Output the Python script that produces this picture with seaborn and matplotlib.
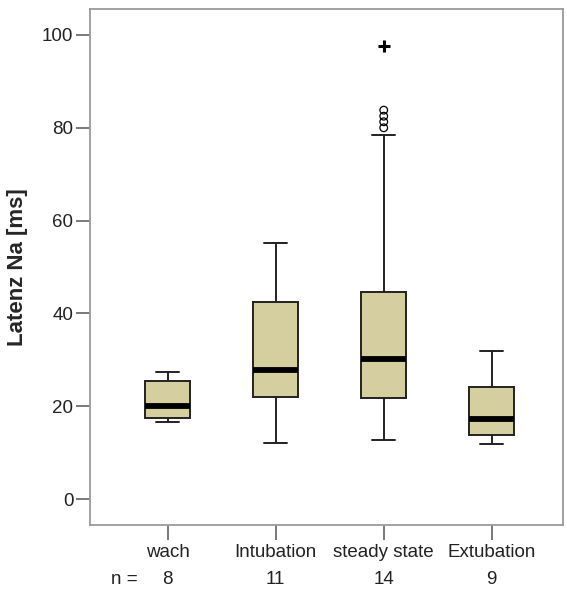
import matplotlib
matplotlib.use("Agg")
import matplotlib.pyplot as plt
import matplotlib.transforms as mtransforms
import numpy as np
import pandas as pd
import seaborn as sns

# Latency Na per phase: five-number summaries (whisker low, Q1, median, Q3, whisker high)
phases = ["wach", "Intubation", "steady state", "Extubation"]
whisker_low = [16.7, 12.1, 12.7, 11.8]
q1 = [17.4, 22.0, 21.8, 13.7]
median = [20.0, 27.8, 30.2, 17.3]
q3 = [25.4, 42.4, 44.6, 24.1]
whisker_high = [27.4, 55.2, 78.4, 31.8]
n_counts = [8, 11, 14, 9]

# Outliers (circles) and extreme values (plus) of the steady-state phase
outlier_phase = ["steady state"] * 4
outlier_values = [80.0, 81.3, 82.5, 83.8]
extreme_phase = ["steady state"]
extreme_values = [97.7]

sns.set_style("white")
plt.rcParams["font.family"] = ["Liberation Sans", "DejaVu Sans"]

rows = []
for i, p in enumerate(phases):
    for v in (whisker_low[i], q1[i], median[i], q3[i], whisker_high[i]):
        rows.append({"Phase": p, "Latenz": v})
df = pd.DataFrame(rows)

fig = plt.figure(figsize=(5.67, 5.90), dpi=100)
ax = fig.add_axes([90 / 567, 1 - 525 / 590, (563 - 90) / 567, (525 - 9) / 590])

box_fill = "#d5cf9f"
edge = "#222222"
sns.boxplot(
    data=df, x="Phase", y="Latenz", order=phases, ax=ax,
    color=box_fill, width=0.42, whis=np.inf, showfliers=False,
    linewidth=1.4, linecolor=edge, saturation=1,
    medianprops={"color": "black", "linewidth": 4.2, "solid_capstyle": "butt"},
)

sns.stripplot(
    data=pd.DataFrame({"Phase": outlier_phase, "Latenz": outlier_values}),
    x="Phase", y="Latenz", order=phases, ax=ax, jitter=False,
    marker="o", size=5.5, facecolors="none", edgecolor="black", linewidth=0.9,
)
sns.stripplot(
    data=pd.DataFrame({"Phase": extreme_phase, "Latenz": extreme_values}),
    x="Phase", y="Latenz", order=phases, ax=ax, jitter=False,
    marker="+", size=9, color="black", linewidth=2.2,
)

ax.set_xlim(-0.72, 3.66)
ax.set_ylim(-5.6, 105.6)
ax.set_yticks([0, 20, 40, 60, 80, 100])
ax.set_xlabel("")
ax.set_ylabel("Latenz Na [ms]", fontsize=16, fontweight="bold", labelpad=10)

for side in ["left", "bottom", "top", "right"]:
    ax.spines[side].set_visible(True)
    ax.spines[side].set_color("#9a9a9a")
    ax.spines[side].set_linewidth(1.3)

ax.tick_params(axis="y", direction="out", length=10, width=1.1, color="#555555",
               labelsize=13.5, labelcolor="#222222", pad=2, left=True)
ax.tick_params(axis="x", direction="out", length=11, width=1.1, color="#555555",
               labelsize=13.5, labelcolor="#222222", pad=3, bottom=True)

# sample sizes below the category labels
trans = mtransforms.blended_transform_factory(ax.transData, ax.transAxes)
y_n = -(580 - 525) / (525 - 9)
ax.text(-0.4, y_n, "n =", transform=trans, ha="center", va="center",
        fontsize=13.5, color="#222222")
for i, n in enumerate(n_counts):
    ax.text(i, y_n, str(n), transform=trans, ha="center", va="center",
            fontsize=13.5, color="#222222")

fig.savefig("out.png", dpi=100)
